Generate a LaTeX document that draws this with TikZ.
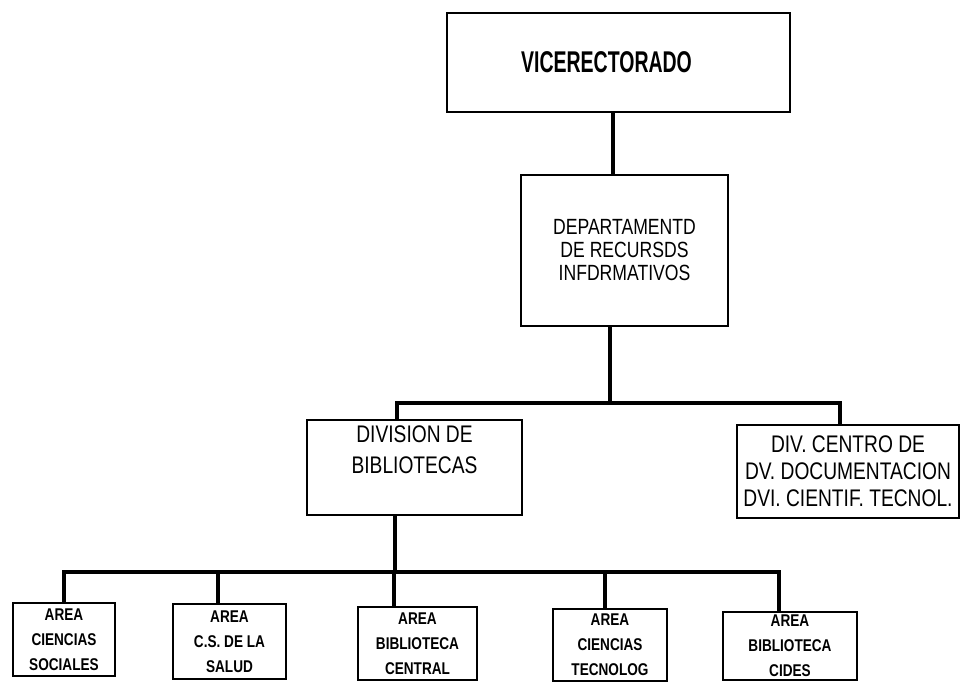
\documentclass[tikz,border=0pt]{standalone}
\usepackage{fontspec}
\newfontfamily\orgfont[FakeStretch=0.8]{Liberation Sans}
\newfontfamily\headfont[FakeStretch=0.65]{Liberation Sans}
\tikzset{
	box/.style={draw, line width=2.3pt, align=center, inner sep=2pt},
	link/.style={line width=3.2pt},
	area/.style={box, font=\orgfont\bfseries\fontsize{17}{25}\selectfont},
	divtext/.style={align=center, inner sep=0pt, font=\orgfont\fontsize{24}{31}\selectfont}
}
\begin{document}
\begin{tikzpicture}[x=1pt, y=-1pt]
		\useasboundingbox (0,0) rectangle (964,681);
		% upper levels
		\node [box, minimum width=343pt, minimum height=99pt, font=\headfont\bfseries\fontsize{30}{32}\selectfont] (vice) at (618.5,62.5) {VICERECTORADO\hspace*{24pt}};
		\node [box, minimum width=207pt, minimum height=151pt, font=\orgfont\fontsize{22}{23}\selectfont] (dept) at (624.5,250.5) {DEPARTAMENTD\\DE RECURSDS\\INFDRMATIVOS};
		\node [box, minimum width=215pt, minimum height=95pt] (divbib) at (414.5,467.5) {};
		\node [divtext, anchor=north] (divbibtext) at ([yshift=-7pt]divbib.north) {DIVISION DE\\BIBLIOTECAS};
		\node [box, minimum width=222pt, minimum height=93pt, font=\orgfont\fontsize{24}{27}\selectfont] (divcen) at (848,471.5) {DIV. CENTRO DE\\DV. DOCUMENTACION\\DVI. CIENTIF. TECNOL.};
		% areas
		\node [area, minimum width=102pt, minimum height=73pt] (a1) at (64,639.5) {AREA\\CIENCIAS\\SOCIALES};
		\node [area, minimum width=113pt, minimum height=75pt] (a2) at (229.5,641.5) {AREA\\C.S. DE LA\\SALUD};
		\node [area, minimum width=119pt, minimum height=73pt] (a3) at (417.5,643.5) {AREA\\BIBLIOTECA\\CENTRAL};
		\node [area, minimum width=114pt, minimum height=72pt] (a4) at (610,645) {AREA\\CIENCIAS\\TECNOLOG};
		\node [area, minimum width=134pt, minimum height=68pt] (a5) at (790,646) {AREA\\BIBLIOTECA\\CIDES};
		\coordinate (upbus) at (0,403);
		\coordinate (lowbus) at (0,572);
		% connectors
		\draw [link] ([xshift=-5.5pt]vice.south) -- ([xshift=-11.5pt]dept.north);
		\draw [link] ([xshift=-14.5pt]dept.south) -- ([xshift=-14.5pt]dept.south |- upbus);
		\draw [link] ([xshift=-17.5pt]divbib.north) |- ([xshift=-8pt]divcen.north |- upbus) -- ([xshift=-8pt]divcen.north);
		\draw [link] ([xshift=-19.5pt]divbib.south) -- ([xshift=-19.5pt]divbib.south |- lowbus);
		\draw [link] (a1.north) |- ([xshift=-11pt]a5.north |- lowbus) -- ([xshift=-11pt]a5.north);
		\foreach \n/\s in {a2/-11.5, a3/-23.5, a4/-5}
			\draw [link] ([xshift=\s pt]\n.north) -- ([xshift=\s pt]\n.north |- lowbus);
	\end{tikzpicture}
\end{document}
